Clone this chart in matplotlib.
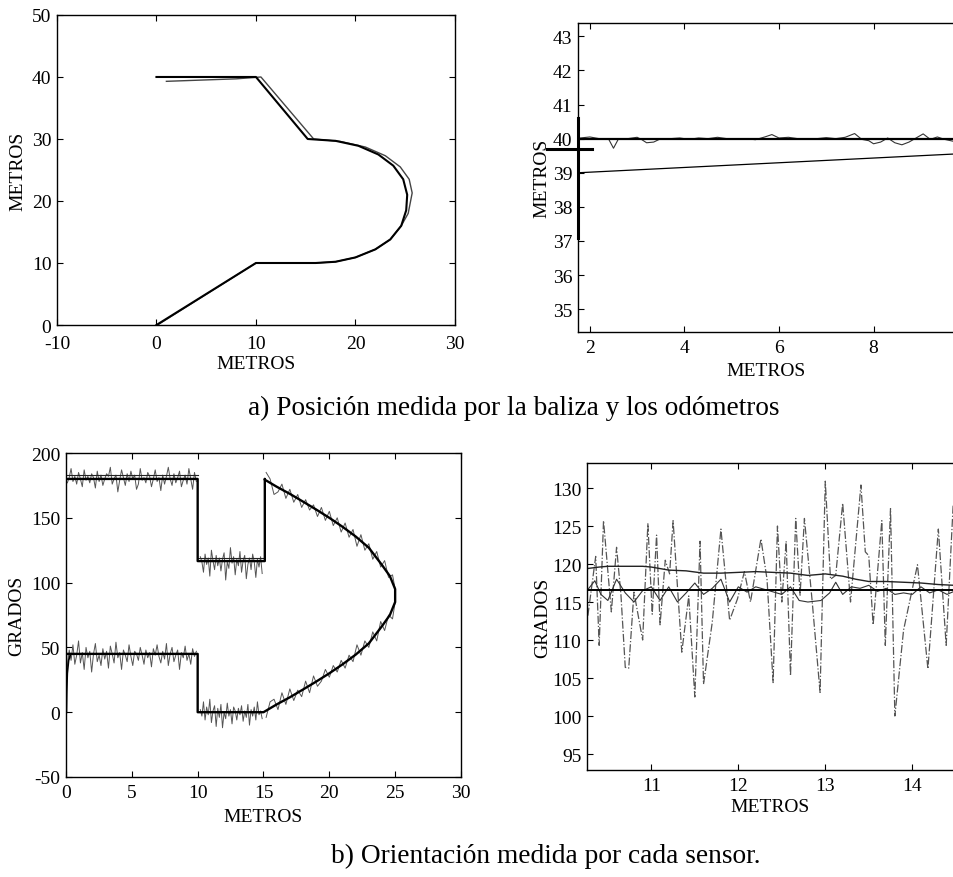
import matplotlib
matplotlib.use('Agg')
import matplotlib.pyplot as plt
import numpy as np

plt.rcParams['font.family'] = ['Liberation Serif', 'DejaVu Serif']
plt.rcParams['axes.unicode_minus'] = False

# ---------------- data: a) trajectory (x, y in metros) ----------------
path_ref_x = [0, 10, 12, 14, 16, 18, 20, 22, 23.5, 24.6, 25.1, 25.2, 24.8, 23.8,
              22.3, 20.3, 18, 15.2, 10, 0]
path_ref_y = [0, 10, 10, 10, 10, 10.2, 10.9, 12.2, 13.8, 16, 18.5, 21, 23.5, 25.7,
              27.5, 28.9, 29.7, 30, 40, 40]
path_odo_x = [0.2, 10, 12, 14, 16, 18, 20, 22, 23.5, 24.6, 25.3, 25.7, 25.4, 24.5,
              23, 21, 18.5, 15.8, 10.5, 8, 1]
path_odo_y = [0.1, 10, 10, 10, 10, 10.2, 10.9, 12.2, 13.8, 16, 18, 21.3, 23.5, 25.5,
              27.3, 28.7, 29.6, 30, 40, 39.7, 39.3]

# zoom of the top straight segment
zoom_ref_x = [1.75, 9.71]
zoom_ref_y = [40, 40]
zoom_odo_x = [1.75, 9.71]
zoom_odo_y = [39.0, 39.55]
zoom_baliza_x = [1.8, 2.0, 2.2, 2.4, 2.5, 2.6, 2.8, 3.0, 3.1, 3.2, 3.35, 3.5, 3.7,
                 3.9, 4.1, 4.3, 4.5, 4.7, 4.9, 5.1, 5.3, 5.5, 5.7, 5.85, 6.0, 6.2,
                 6.4, 6.6, 6.8, 7.0, 7.2, 7.4, 7.6, 7.75, 7.9, 8.0, 8.15, 8.3, 8.45,
                 8.6, 8.75, 8.9, 9.05, 9.2, 9.35, 9.5, 9.7]
zoom_baliza_y = [40.02, 40.05, 40.0, 39.98, 39.72, 39.98, 40.0, 40.04, 39.97, 39.88,
                 39.9, 40.0, 40.0, 40.02, 39.98, 40.02, 40.0, 40.04, 40.0, 39.98, 40.0,
                 39.97, 40.05, 40.12, 40.02, 40.04, 40.0, 39.98, 40.0, 40.03, 40.0,
                 40.04, 40.15, 39.98, 39.94, 39.85, 39.9, 40.02, 39.88, 39.82, 39.9,
                 40.02, 40.14, 39.98, 40.05, 39.98, 39.92]
zoom_tramo_x = [1.1, 2.05]
zoom_tramo_y = [39.7, 39.7]
zoom_borde_x = [1.75, 1.75]
zoom_borde_y = [37.1, 40.6]

# ---------------- data: b) orientation (grados vs metros) ----------------
ori_ref_x = [0, 0, 10, 10, 15, 15.1, 16, 17, 18, 19, 20, 21, 22, 23, 24, 24.6,
             25, 25, 24.6, 24, 23, 22, 21, 20, 19, 18, 17, 16, 15.1, 15.1, 15.1,
             10, 10, 0]
ori_ref_y = [0, 45, 45, 0, 0, 0.6, 6, 11.5, 17.5, 23.6, 30, 36.9, 44.4, 53.1, 66.4,
             75, 85, 95, 105, 113.6, 126.9, 135.6, 143.1, 150, 156.4, 162.5, 168.5,
             174, 179.4, 180, 116.6, 116.6, 180, 180]

filt_sup_x = [0, 10]
filt_sup_y = [183, 183]
filt_med_x = [10, 15]
filt_med_y = [119, 119]
filt_ini_x = [0.02, 0.05, 0.1, 0.2, 0.35]
filt_ini_y = [0, 15, 30, 40, 45]

tramo1_y = [35, 48, 40, 52, 37, 44, 55, 38, 46, 33, 50, 42, 47, 31, 45, 53, 39, 44,
            36, 49, 41, 47, 34, 51, 45, 38, 54, 42, 46, 33, 48, 44, 39, 52, 43, 36,
            47, 45, 40, 50, 44, 37, 48, 42, 46, 35, 49, 44, 52, 43, 38, 47, 41, 53,
            36, 45, 50, 39, 44, 48, 33, 46, 42, 51, 40, 45, 37, 49, 43, 47]
tramo2_y = [2, -3, 8, -6, 4, -2, 10, -8, 1, 5, -11, 3, -4, 6, -12, 0, -5, 7, -3, 2,
            -9, 4, 1, -6, 3, -2, 5, -7, 1, -4, 6, -10, 2, -3, 4, -6, 8, -2, 1, -5]
arco_inf_x = [15.2, 15.5, 15.8, 16.1, 16.4, 16.7, 17.0, 17.3, 17.6, 17.9, 18.2, 18.5,
              18.8, 19.1, 19.4, 19.7, 20.0, 20.3, 20.6, 20.9, 21.2, 21.5, 21.8, 22.1,
              22.4, 22.7, 23.0, 23.3, 23.6, 23.9, 24.2, 24.5, 24.8, 25.0]
arco_inf_y = [-4, 8, 10, 2, 15, 6, 18, 9, 17, 12, 24, 15, 28, 20, 24, 33, 27, 36, 31,
              40, 34, 44, 39, 52, 44, 55, 50, 62, 55, 70, 63, 75, 72, 85]
arco_sup_x = [25.0, 24.8, 24.5, 24.2, 23.9, 23.6, 23.3, 23.0, 22.7, 22.4, 22.1, 21.8,
              21.5, 21.2, 20.9, 20.6, 20.3, 20.0, 19.7, 19.4, 19.1, 18.8, 18.5, 18.2,
              17.9, 17.6, 17.3, 17.0, 16.7, 16.4, 16.1, 15.8, 15.5, 15.2]
arco_sup_y = [95, 106, 104, 117, 112, 124, 118, 130, 125, 137, 128, 141, 135, 146,
              139, 150, 144, 155, 148, 158, 151, 160, 156, 164, 158, 168, 162, 172,
              165, 176, 170, 168, 180, 185]
tramo4_y = [107, 120, 112, 118, 104, 116, 122, 110, 119, 114, 103, 121, 117, 108, 124,
            113, 118, 106, 120, 115, 127, 111, 116, 102, 123, 118, 109, 119, 113, 121,
            110, 117, 125, 105, 119, 114, 122, 108, 116, 120]
tramo5_y = [178, 185, 172, 180, 188, 176, 183, 179, 174, 186, 181, 177, 184, 175, 180,
            189, 182, 176, 183, 171, 181, 178, 187, 180, 174, 182, 185, 177, 181, 179,
            188, 176, 172, 183, 180, 186, 178, 184, 175, 181, 187, 179, 170, 183, 180,
            176, 189, 182, 184, 180, 175, 183, 178, 186, 173, 181, 184, 177, 182, 179,
            187, 174, 180, 185, 176, 182, 178, 188, 181, 177]

# zoom of the 117 deg segment
det_ref_x = [10.26, 14.48]
det_ref_y = [116.6, 116.6]
det_filt_x = [10.26, 10.4, 10.5, 10.7, 10.9, 11.0, 11.2, 11.4, 11.6, 11.8, 12.0,
              12.2, 12.4, 12.6, 12.8, 13.0, 13.2, 13.35, 13.5, 13.7, 13.9, 14.1,
              14.3, 14.48]
det_filt_y = [119.4, 119.6, 119.7, 119.7, 119.7, 119.6, 119.2, 119.1, 118.8, 118.8,
              118.9, 119.0, 118.9, 118.8, 118.5, 118.7, 118.4, 118.0, 117.7, 117.7,
              117.6, 117.5, 117.3, 117.2]
det_brujula_x = [10.27, 10.36, 10.40, 10.45, 10.54, 10.60, 10.65, 10.70, 10.74,
                 10.80, 10.90, 10.96, 11.01, 11.06, 11.10, 11.16, 11.21, 11.25, 11.35,
                 11.43, 11.50, 11.56, 11.60, 11.70, 11.80, 11.90, 11.99, 12.07, 12.14,
                 12.26, 12.33, 12.40, 12.45, 12.50, 12.55, 12.60, 12.66, 12.71, 12.76,
                 12.85, 12.94, 13.00, 13.06, 13.12, 13.20, 13.29, 13.41, 13.46, 13.50,
                 13.55, 13.65, 13.69, 13.75, 13.80, 13.90, 14.06, 14.18, 14.30, 14.39,
                 14.47]
det_brujula_y = [113.2, 121.0, 109.3, 125.7, 113.7, 122.2, 116.0, 106.4, 106.3,
                 116.3, 110.0, 125.3, 113.4, 123.8, 112.0, 120.5, 118.7, 125.7, 108.4,
                 115.8, 102.5, 123.0, 104.2, 112.3, 124.6, 112.6, 115.4, 119.0, 115.0,
                 123.3, 118.0, 104.4, 125.0, 115.0, 123.0, 105.3, 126.0, 115.9, 126.0,
                 115.0, 103.1, 130.9, 118.0, 118.5, 128.0, 115.0, 130.4, 121.6, 121.1,
                 112.0, 125.7, 109.3, 127.3, 100.0, 111.3, 119.9, 106.2, 124.6, 109.3,
                 127.7]
det_giro_x = [10.26, 10.35, 10.42, 10.5, 10.6, 10.7, 10.8, 10.9, 11.0, 11.1, 11.2,
              11.3, 11.4, 11.5, 11.6, 11.7, 11.8, 11.9, 12.0, 12.1, 12.2, 12.35, 12.5,
              12.6, 12.7, 12.8, 12.95, 13.05, 13.12, 13.2, 13.3, 13.4, 13.5, 13.6,
              13.7, 13.8, 13.9, 14.0, 14.1, 14.2, 14.3, 14.4, 14.48]
det_giro_y = [116.5, 117.8, 116.0, 115.2, 118.0, 116.2, 115.0, 116.5, 117.0, 115.2,
              117.0, 115.0, 116.2, 117.5, 116.0, 116.8, 118.0, 115.0, 117.0, 116.3,
              117.0, 116.5, 116.0, 117.0, 115.2, 115.0, 115.2, 116.2, 117.6, 116.0,
              117.0, 116.8, 117.2, 116.4, 116.8, 116.0, 116.2, 116.0, 117.0, 116.2,
              116.6, 116.0, 116.4]

# ---------------- figure ----------------
fig = plt.figure(figsize=(9.54, 8.78), dpi=100)

LABEL_FS = 14


def style(ax, right=True, xpad=5):
    ax.tick_params(direction='in', top=True, right=right, length=4, width=0.8,
                   labelsize=LABEL_FS, colors='black')
    ax.tick_params(axis='x', pad=xpad)
    ax.tick_params(axis='y', pad=4)
    for s in ax.spines.values():
        s.set_linewidth(1.0)
    if not right:
        ax.spines['right'].set_visible(False)


# a) left: trajectory
ax1 = fig.add_axes([0.0597, 0.6287, 0.4172, 0.3531])
ax1.plot(path_odo_x, path_odo_y, color='#444444', lw=1.0)
ax1.plot(path_ref_x, path_ref_y, color='black', lw=1.5)
ax1.set_xlim(-10, 30)
ax1.set_ylim(0, 50)
ax1.set_xticks([-10, 0, 10, 20, 30])
ax1.set_yticks([0, 10, 20, 30, 40, 50])
ax1.set_xlabel('METROS', fontsize=LABEL_FS, labelpad=2)
ax1.set_ylabel('METROS', fontsize=LABEL_FS)
ax1.yaxis.set_label_coords(-0.078, 0.5)
style(ax1, xpad=7)

# a) right: zoom
ax2 = fig.add_axes([0.6059, 0.6207, 0.3945, 0.3519])
ax2.plot(zoom_odo_x, zoom_odo_y, color='black', lw=0.9)
ax2.plot(zoom_baliza_x, zoom_baliza_y, color='#333333', lw=0.8)
ax2.plot(zoom_ref_x, zoom_ref_y, color='black', lw=1.6)
ax2.plot(zoom_tramo_x, zoom_tramo_y, color='black', lw=2.2, clip_on=False)
ax2.plot(zoom_borde_x, zoom_borde_y, color='black', lw=2.2, clip_on=False)
ax2.set_xlim(1.75, 9.71)
ax2.set_ylim(34.33, 43.39)
ax2.set_xticks([2, 4, 6, 8])
ax2.set_yticks(range(35, 44))
ax2.set_xlabel('METROS', fontsize=LABEL_FS, labelpad=4)
ax2.set_ylabel('METROS', fontsize=LABEL_FS)
ax2.yaxis.set_label_coords(-0.074, 0.5)
style(ax2, right=False)

# b) left: orientation
noise_kw = dict(color='#555555', lw=0.7)
ax3 = fig.add_axes([0.0692, 0.1139, 0.414, 0.369])
ax3.plot(np.linspace(0.1, 9.9, len(tramo1_y)), tramo1_y, **noise_kw)
ax3.plot(np.linspace(10.2, 14.9, len(tramo2_y)), tramo2_y, **noise_kw)
ax3.plot(arco_inf_x, arco_inf_y, **noise_kw)
ax3.plot(arco_sup_x, arco_sup_y, **noise_kw)
ax3.plot(np.linspace(14.9, 10.2, len(tramo4_y)), tramo4_y, **noise_kw)
ax3.plot(np.linspace(9.9, 0.1, len(tramo5_y)), tramo5_y, **noise_kw)
ax3.plot(filt_sup_x, filt_sup_y, color='#222222', lw=0.8)
ax3.plot(filt_med_x, filt_med_y, color='#222222', lw=0.8)
ax3.plot(filt_ini_x, filt_ini_y, color='black', lw=1.2)
ax3.plot(ori_ref_x, ori_ref_y, color='black', lw=1.7)
ax3.set_xlim(0, 30)
ax3.set_ylim(-50, 200)
ax3.set_xticks(range(0, 31, 5))
ax3.set_yticks(range(-50, 201, 50))
ax3.set_xlabel('METROS', fontsize=LABEL_FS, labelpad=5)
ax3.set_ylabel('GRADOS', fontsize=LABEL_FS)
ax3.yaxis.set_label_coords(-0.104, 0.5)
style(ax3)

# b) right: zoom
ax4 = fig.add_axes([0.6153, 0.1219, 0.3847, 0.3497])
ax4.plot(det_brujula_x, det_brujula_y, color='#555555', lw=0.9, ls='-.')
ax4.plot(det_giro_x, det_giro_y, color='#333333', lw=0.8)
ax4.plot(det_filt_x, det_filt_y, color='#222222', lw=1.0)
ax4.plot(det_ref_x, det_ref_y, color='black', lw=1.4)
ax4.set_xlim(10.26, 14.48)
ax4.set_ylim(92.9, 133.3)
ax4.set_xticks([11, 12, 13, 14])
ax4.set_yticks(range(95, 131, 5))
ax4.set_xlabel('METROS', fontsize=LABEL_FS, labelpad=3)
ax4.set_ylabel('GRADOS', fontsize=LABEL_FS)
ax4.yaxis.set_label_coords(-0.098, 0.5)
style(ax4, right=False)

# captions
fig.text(0.538, 1 - 408 / 878, 'a) Posición medida por la baliza y los odómetros',
         ha='center', va='center', fontsize=19.6)
fig.text(0.572, 1 - 856 / 878, 'b) Orientación medida por cada sensor.',
         ha='center', va='center', fontsize=19.7)

fig.savefig('out.png', dpi=100, facecolor='white')
